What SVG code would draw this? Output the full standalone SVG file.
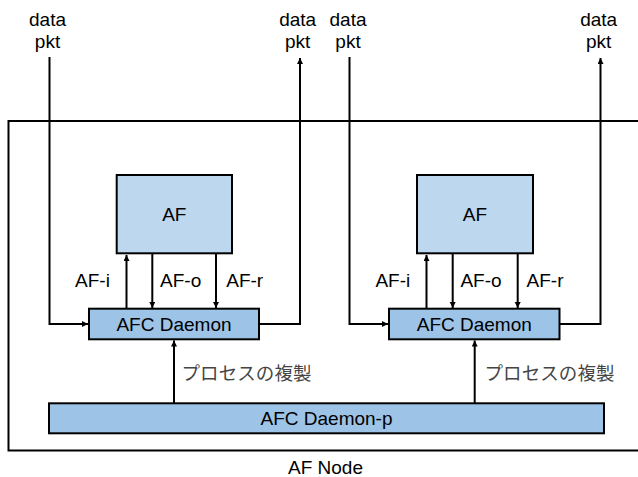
<svg xmlns="http://www.w3.org/2000/svg" width="638" height="477" viewBox="0 0 638 477">
<style>
  .t { font-family: "Liberation Sans", Arial, sans-serif; font-size: 19px; fill: #000; text-anchor: middle; }
  .jp { font-family: "Noto Sans CJK JP", sans-serif; font-size: 18.5px; fill: #444; }
  .af { fill: #BDD7EE; stroke: #000; stroke-width: 2; }
  .dm { fill: #9DC3E6; stroke: #000; stroke-width: 2; }
  .ln { fill: none; stroke: #000; stroke-width: 2; }
</style>
<defs>
  <marker id="ah" markerUnits="userSpaceOnUse" markerWidth="7" markerHeight="7" refX="6" refY="3" orient="auto">
    <path d="M0,0 L6,3 L0,6 z" fill="#000"/>
  </marker>
</defs>
<rect width="638" height="477" fill="#fff"/>

<g id="af-node-frame">
  <rect x="8.5" y="121" width="640" height="329.5" class="ln"/>
  <text class="t" x="325.5" y="474">AF Node</text>
</g>

<g id="labels-data">
  <text class="t" x="47.5" y="26">data</text>
  <text class="t" x="47.5" y="48">pkt</text>
  <text class="t" x="297.7" y="26">data</text>
  <text class="t" x="297.7" y="48">pkt</text>
  <text class="t" x="348" y="26">data</text>
  <text class="t" x="348" y="48">pkt</text>
  <text class="t" x="598.7" y="26">data</text>
  <text class="t" x="598.7" y="48">pkt</text>
</g>

<g id="connectors">
  <path class="ln" d="M49.5,57 V324 H88" marker-end="url(#ah)"/>
  <path class="ln" d="M259,324 H300 V58" marker-end="url(#ah)"/>
  <path class="ln" d="M126.5,308 V255" marker-end="url(#ah)"/>
  <path class="ln" d="M152.3,254 V308" marker-end="url(#ah)"/>
  <path class="ln" d="M216,254 V308" marker-end="url(#ah)"/>
  <path class="ln" d="M174,403 V340.5" marker-end="url(#ah)"/>

  <path class="ln" d="M349.5,57 V324 H388" marker-end="url(#ah)"/>
  <path class="ln" d="M559.5,324 H600.5 V58" marker-end="url(#ah)"/>
  <path class="ln" d="M426.5,308 V255" marker-end="url(#ah)"/>
  <path class="ln" d="M452.7,254 V308" marker-end="url(#ah)"/>
  <path class="ln" d="M517.7,254 V308" marker-end="url(#ah)"/>
  <path class="ln" d="M474.7,403 V340.5" marker-end="url(#ah)"/>

  <text class="t" x="92.5" y="287">AF-i</text>
  <text class="t" x="180.7" y="287">AF-o</text>
  <text class="t" x="244.7" y="287">AF-r</text>
  <text class="t" x="392.8" y="287">AF-i</text>
  <text class="t" x="481" y="287">AF-o</text>
  <text class="t" x="545" y="287">AF-r</text>

  <text class="jp" x="181.5" y="380" textLength="130" lengthAdjust="spacing">プロセスの複製</text>
  <text class="jp" x="484.5" y="380" textLength="130" lengthAdjust="spacing">プロセスの複製</text>
</g>

<g id="af-1">
  <rect class="af" x="116.7" y="175" width="115.3" height="78.3"/>
  <text class="t" x="174.3" y="221">AF</text>
</g>
<g id="afc-daemon-1">
  <rect class="dm" x="89" y="308.7" width="170" height="30.6"/>
  <text class="t" x="174" y="331">AFC Daemon</text>
</g>

<g id="af-2">
  <rect class="af" x="417" y="175" width="116" height="78.3"/>
  <text class="t" x="475" y="221">AF</text>
</g>
<g id="afc-daemon-2">
  <rect class="dm" x="389" y="308.7" width="170.5" height="30.6"/>
  <text class="t" x="474.3" y="331">AFC Daemon</text>
</g>

<g id="afc-daemon-p">
  <rect class="dm" x="49" y="403.3" width="555" height="30"/>
  <text class="t" x="326.5" y="425">AFC Daemon-p</text>
</g>
</svg>
